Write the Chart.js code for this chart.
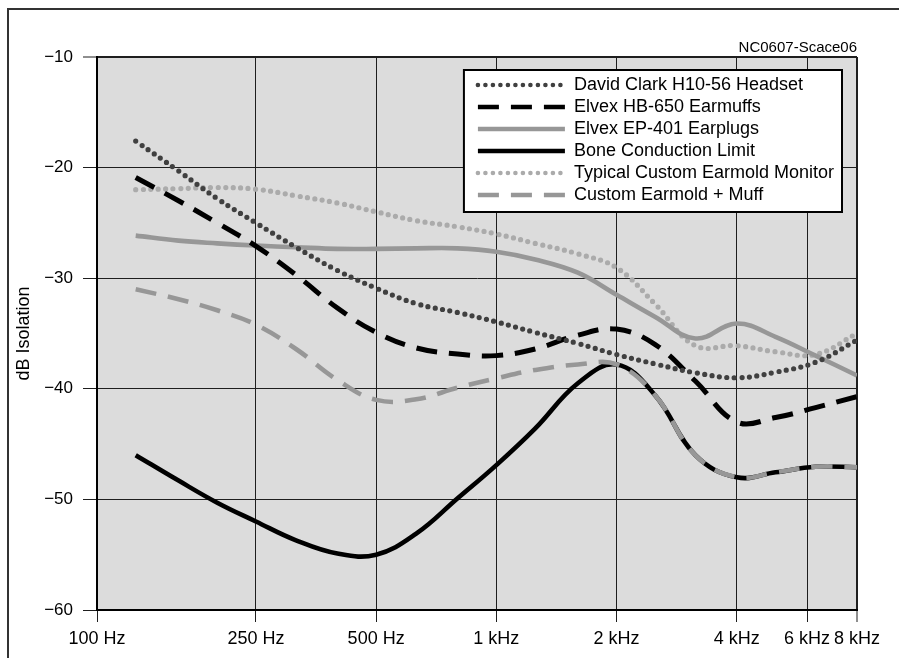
<!DOCTYPE html>
<html>
<head>
<meta charset="utf-8">
<script src="https://cdn.jsdelivr.net/npm/chart.js@4.4.1/dist/chart.umd.min.js"></script>
<style>
  html, body { margin: 0; padding: 0; background: #fff; overflow: hidden; }
  #frame { position: absolute; left: 7px; top: 8px; width: 900px; height: 660px;
           border-left: 2px solid #333; border-top: 2px solid #333; }
  #c { position: absolute; left: 0; top: 0; }
</style>
</head>
<body>
<div id="frame"></div>
<canvas id="c" width="899" height="658"></canvas>
<script>
// ---- Data ----
const freqsHz = [125, 160, 200, 250, 315, 400, 500, 630, 800, 1000, 1250, 1600, 2000, 2500, 3150, 4000, 5000, 6300, 8000];

const davidClarkH1056   = [-17.6, -20.3, -22.8, -25.0, -27.2, -29.3, -30.9, -32.3, -33.1, -33.95, -34.9, -35.9, -36.9, -37.75, -38.55, -39.0, -38.5, -37.6, -35.6];
const elvexHB650        = [-20.9, -23.0, -25.0, -27.1, -29.7, -32.7, -34.9, -36.3, -36.85, -37.0, -36.4, -35.15, -34.6, -36.0, -39.3, -43.0, -42.6, -41.7, -40.7];
const elvexEP401        = [-26.15, -26.6, -26.85, -27.05, -27.2, -27.35, -27.35, -27.3, -27.3, -27.6, -28.3, -29.5, -31.5, -33.5, -35.45, -34.1, -35.3, -37.0, -38.8];
const boneConduction    = [-46.0, -48.3, -50.3, -52.0, -53.7, -54.9, -55.0, -53.1, -49.9, -46.9, -43.6, -39.5, -37.8, -40.6, -46.0, -48.0, -47.55, -47.05, -47.1];
const customEarmoldMon  = [-22.0, -21.9, -21.8, -21.95, -22.55, -23.2, -24.0, -24.8, -25.35, -26.0, -26.85, -27.8, -29.05, -32.35, -36.1, -36.1, -36.65, -36.9, -35.0];
const earmoldPlusMuff   = [-31.0, -31.9, -32.9, -34.2, -36.4, -39.2, -41.0, -40.95, -39.9, -39.05, -38.3, -37.8, -37.8, -40.6, -46.0, -48.0, -47.55, -47.05, -47.1];

const seriesLabels = [
  'David Clark H10-56 Headset',
  'Elvex HB-650 Earmuffs',
  'Elvex EP-401 Earplugs',
  'Bone Conduction Limit',
  'Typical Custom Earmold Monitor',
  'Custom Earmold + Muff'
];

const xTickValues = [100, 250, 500, 1000, 2000, 4000, 6000, 8000];
const xTickLabels = ['100 Hz', '250 Hz', '500 Hz', '1 kHz', '2 kHz', '4 kHz', '6 kHz', '8 kHz'];
const yTickValues = [-60, -50, -40, -30, -20, -10];
const yTickLabels = ['\u221260', '\u221250', '\u221240', '\u221230', '\u221220', '\u221210'];

const yAxisTitle = 'dB Isolation';
const figureId = 'NC0607-Scace06';

// ---- Chart ----
const FONT = '"Liberation Sans", Arial, Helvetica, sans-serif';
Chart.defaults.font.family = FONT;
Chart.defaults.color = '#000';

const toPoints = (vals) => freqsHz.map((f, i) => ({ x: f, y: vals[i] }));

const styles = [
  { color: '#404040', width: 5.2, dash: [0, 7.5], cap: 'round' },
  { color: '#000000', width: 5,   dash: [21, 12], cap: 'butt' },
  { color: '#979797', width: 4.6, dash: [],       cap: 'butt' },
  { color: '#000000', width: 4.6, dash: [],       cap: 'butt' },
  { color: '#ababab', width: 5.2, dash: [0, 7.5], cap: 'round' },
  { color: '#979797', width: 4.6, dash: [21, 12], cap: 'butt' }
];
const seriesValues = [davidClarkH1056, elvexHB650, elvexEP401, boneConduction, customEarmoldMon, earmoldPlusMuff];

const datasets = seriesValues.map((vals, i) => ({
  label: seriesLabels[i],
  data: toPoints(vals),
  borderColor: styles[i].color,
  backgroundColor: styles[i].color,
  borderWidth: styles[i].width,
  borderDash: styles[i].dash,
  borderCapStyle: styles[i].cap,
  borderJoinStyle: 'round',
  pointRadius: 0,
  pointHoverRadius: 0,
  tension: 0.4,
  fill: false,
  order: i === 5 ? 0 : 1
}));

const plotBg = {
  id: 'plotBg',
  beforeDraw(chart) {
    const { ctx, chartArea: a } = chart;
    ctx.save();
    ctx.fillStyle = '#dcdcdc';
    ctx.fillRect(a.left, a.top, a.right - a.left, a.bottom - a.top);
    ctx.restore();
  }
};

const legendFrame = {
  id: 'legendFrame',
  afterLayout(chart) {
    const lg = chart.legend, ca = chart.chartArea;
    if (!lg) return;
    const ctx = chart.ctx;
    ctx.save();
    ctx.font = '18px ' + FONT;
    const tw = Math.max(...chart.data.datasets.map(d => ctx.measureText(d.label).width));
    ctx.restore();
    const pad = 4, sample = 87, gap = 9;
    const boxRight = ca.right - 15, boxTop = ca.top + 13;
    const boxW = 14 + sample + gap + tw + 8;
    const boxH = 142;
    const boxLeft = boxRight - boxW;
    lg.left = boxLeft + 14 - pad;
    lg.top = boxTop + 6 - pad;
    lg.right = boxRight;
    lg.bottom = boxTop + boxH;
    lg.width = lg.right - lg.left;
    lg.height = lg.bottom - lg.top;
    lg._frame = { x: boxLeft, y: boxTop, w: boxW, h: boxH };
    if (!lg._wrapped) {
      const orig = lg.draw;
      lg.draw = function (area) {
        const c = this.ctx, f = this._frame;
        c.save();
        c.fillStyle = '#ffffff';
        c.fillRect(f.x, f.y, f.w, f.h);
        c.lineWidth = 2;
        c.strokeStyle = '#000';
        c.strokeRect(f.x, f.y, f.w, f.h);
        c.restore();
        orig.call(this, area);
      };
      lg._wrapped = true;
    }
  }
};

new Chart(document.getElementById('c'), {
  type: 'line',
  data: { datasets },
  plugins: [plotBg, legendFrame],
  options: {
    responsive: false,
    animation: false,
    devicePixelRatio: 1,
    layout: { padding: { left: 0, right: 42, top: 39, bottom: 0 } },
    plugins: {
      tooltip: { enabled: false },
      title: {
        display: true,
        text: figureId,
        align: 'end',
        position: 'top',
        color: '#000',
        font: { size: 15, weight: 'normal', family: FONT },
        padding: { top: 0, bottom: 0 }
      },
      legend: {
        display: true,
        position: 'chartArea',
        align: 'start',
        labels: {
          font: { size: 18, family: FONT },
          color: '#000',
          usePointStyle: true,
          pointStyleWidth: 87,
          padding: 4,
          generateLabels(chart) {
            return chart.data.datasets.map((ds, i) => ({
              text: ds.label,
              fillStyle: 'rgba(0,0,0,0)',
              strokeStyle: ds.borderColor,
              lineWidth: Math.min(ds.borderWidth, 4.6),
              lineDash: ds.borderDash,
              lineCap: ds.borderCapStyle,
              lineJoin: 'round',
              pointStyle: 'line',
              fontColor: '#000',
              hidden: false,
              datasetIndex: i
            }));
          }
        }
      }
    },
    scales: {
      x: {
        type: 'logarithmic',
        min: 100,
        max: 8000,
        afterBuildTicks(scale) { scale.ticks = xTickValues.map(v => ({ value: v })); },
        afterFit(scale) { scale.height = 48; },
        ticks: {
          autoSkip: false,
          maxRotation: 0,
          minRotation: 0,
          padding: 6,
          color: '#000',
          font: { size: 18, family: FONT },
          callback: (v) => { const k = xTickValues.indexOf(v); return k >= 0 ? xTickLabels[k] : ''; }
        },
        grid: {
          color: '#1e1e1e',
          lineWidth: (c) => (c.tick && c.tick.value === 8000 ? 2 : 1),
          tickWidth: 1,
          tickLength: 12,
          tickColor: '#1e1e1e',
          drawTicks: true
        },
        border: { display: true, color: '#000', width: 2 }
      },
      y: {
        type: 'linear',
        min: -60,
        max: -10,
        afterBuildTicks(scale) { scale.ticks = yTickValues.map(v => ({ value: v })); },
        afterFit(scale) { scale.width = 97; },
        ticks: {
          padding: 10,
          color: '#000',
          font: { size: 17, family: FONT },
          callback: (v) => { const k = yTickValues.indexOf(v); return k >= 0 ? yTickLabels[k] : ''; }
        },
        grid: {
          color: '#1e1e1e',
          lineWidth: (c) => (c.tick && c.tick.value === -10 ? 2 : 1),
          tickWidth: 1,
          tickLength: 14,
          tickColor: '#1e1e1e',
          drawTicks: true
        },
        border: { display: true, color: '#000', width: 2 },
        title: {
          display: true,
          text: yAxisTitle,
          color: '#000',
          font: { size: 18, family: FONT },
          padding: { top: 13, bottom: 0 }
        }
      }
    }
  }
});
</script>
</body>
</html>
